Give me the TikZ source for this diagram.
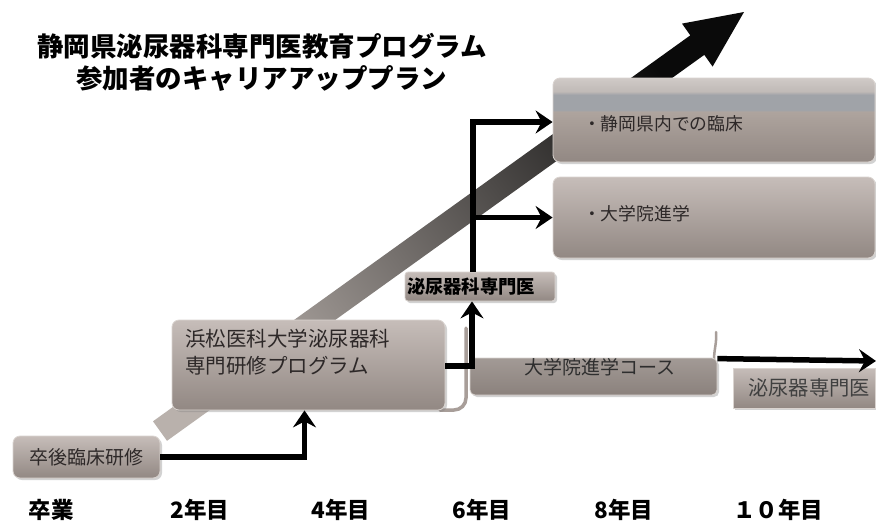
\documentclass[tikz,border=0pt]{standalone}
\usepackage{fontspec}
\newfontfamily\jp{Noto Sans CJK JP}
\usetikzlibrary{arrows.meta,shadows,calc}
\definecolor{bt}{RGB}{198,189,185}
\definecolor{bb}{RGB}{146,136,131}
\definecolor{bedge}{RGB}{218,212,208}
\definecolor{txt}{RGB}{45,40,40}
\definecolor{atop}{RGB}{10,10,10}
\definecolor{amid}{RGB}{85,80,78}
\definecolor{abot}{RGB}{185,177,172}
\definecolor{strip}{RGB}{168,158,153}
\definecolor{kbrown}{RGB}{174,164,158}
\definecolor{kblue}{RGB}{160,163,168}
\definecolor{klight}{RGB}{192,186,183}
\definecolor{ktop}{RGB}{208,202,199}
\pgfdeclareverticalshading{kfive}{100bp}{color(0bp)=(bb); color(25bp)=(bb); color(55bp)=(kbrown); color(56bp)=(kblue); color(65bp)=(kblue); color(67bp)=(klight); color(75bp)=(ktop); color(100bp)=(ktop)}
\tikzset{
  box/.style={rounded corners=7pt, top color=bt, bottom color=bb, draw=bedge, line width=0.8pt,
    drop shadow={shadow xshift=2pt, shadow yshift=-2pt, opacity=0.35},
    inner sep=0pt, font=\jp\fontsize{19}{23}\selectfont, text=txt},
  conn/.style={line width=5.5pt, black, line join=miter,
    -{Stealth[length=17pt,width=23pt,inset=6pt]}},
  yearlbl/.style={font=\jp\bfseries\fontsize{22.5}{26}\selectfont, text=black}
}
\begin{document}
\begin{tikzpicture}[x=1pt,y=-1pt]
\useasboundingbox (0,0) rectangle (876,531);
\fill[white] (0,0) rectangle (876,531);

% title
\node[font=\jp\bfseries\fontsize{26.5}{32}\selectfont, align=center] (title) at (262,62)
  {静岡県泌尿器科専門医教育プログラム\\参加者のキャリアアッププラン};

% big rising arrow
\shade[bottom color=abot, middle color=amid, top color=atop, shading angle=-54]
  (153,421.3) -- (690.3,35.35) -- (682,23.6) -- (744,12) -- (712.6,66.6)
  -- (704.3,54.85) -- (167,440.8) -- cycle;

% strips behind
\draw[strip, line width=3.5pt, line cap=round] (466,328) -- (466,398) to[out=270,in=0] (454,410) -- (440,410);
\draw[strip, line width=2.5pt, line cap=round] (716,332) to[out=-85,in=90] (714,360);

% boxes
\node[box, minimum width=147pt, minimum height=42pt] (b1) at (86.5,457) {卒後臨床研修};
\node[box, minimum width=273pt, minimum height=90pt, text width=247pt, inner xsep=13pt, align=left,
  font=\jp\fontsize{20.5}{27}\selectfont] (b2) at (308.5,365)
  {浜松医科大学泌尿器科\\専門研修プログラム\\\mbox{}};
\node[box, rounded corners=3pt, minimum width=150pt, minimum height=29pt, text width=146pt, inner xsep=2pt,
  align=left, font=\jp\bfseries\fontsize{18.3}{22}\selectfont, text=black] (spec) at (480,286.5) {泌尿器科専門医};
\node[box, shading=kfive, minimum width=322pt, minimum height=84pt, text width=262pt, inner xsep=30pt,
  align=left, text height=23pt, text depth=2pt, font=\jp\fontsize{17.8}{22}\selectfont] (k5) at (714,120) {・静岡県内での臨床};
\node[box, minimum width=322pt, minimum height=81pt, text width=262pt, inner xsep=30pt,
  align=left, text height=16pt, text depth=11pt, font=\jp\fontsize{17.8}{22}\selectfont] (k6) at (714,217.5) {・大学院進学};
\node[box, rounded corners=5pt, top color=bb!85!white, bottom color=bb!95!black, minimum width=247pt, minimum height=33pt,
  text height=16pt, text depth=21pt, text=black!82] (grad) at (593.5,376.5) {\hspace{13pt}大学院進学コース};
\node[box, rounded corners=0pt, minimum width=142pt, minimum height=40pt, font=\jp\fontsize{20.3}{24}\selectfont,
  text=black!75] (b7) at (804,388) {\hspace{10pt}泌尿器専門医};

% connectors
\coordinate (rend) at (876,361);
\draw[conn] (b1.east) -| ([xshift=-4pt]b2.south);
\draw[conn] ([yshift=-1pt]b2.east) -| ([xshift=-8pt]spec.south);
\draw[conn] ([xshift=-7pt]spec.north) |- ([yshift=-2pt]k5.west);
\draw[conn] ([xshift=-7pt]spec.north) |- (k6.west);
\draw[conn] ([yshift=-1pt]grad.north east) -- (rend);

% years
\node[yearlbl] (y0) at (51,510) {卒業};
\node[yearlbl] (y2) at (200,510) {2年目};
\node[yearlbl] (y4) at (341,510) {4年目};
\node[yearlbl] (y6) at (482,510) {6年目};
\node[yearlbl] (y8) at (624,510) {8年目};
\node[yearlbl] (y10) at (778,510) {１０年目};
\end{tikzpicture}
\end{document}
